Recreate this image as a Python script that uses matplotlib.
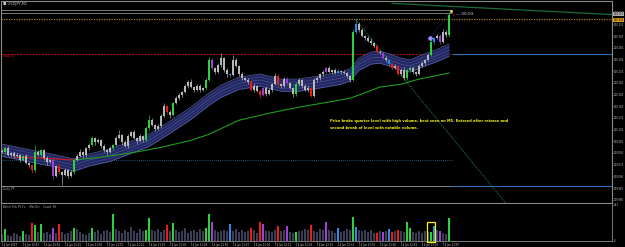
import matplotlib
matplotlib.use("Agg")
import matplotlib.pyplot as plt
from matplotlib.patches import Rectangle

# ---- data (price, USDJPY) ----
first_open = 110.061
closes = [
    110.058, 110.066, 110.051, 110.056, 110.049, 110.051, 110.041, 110.049, 110.034, 110.030,
    110.019, 110.058, 110.051, 110.062, 110.045, 110.036, 110.041, 110.007, 110.028, 110.015,
    110.009, 110.019, 110.007, 110.015, 110.041, 110.049, 110.058, 110.051, 110.066, 110.073,
    110.088, 110.079, 110.083, 110.071, 110.062, 110.058, 110.066, 110.073, 110.088, 110.094,
    110.079, 110.071, 110.092, 110.100, 110.088, 110.081, 110.092, 110.083, 110.109, 110.126,
    110.116, 110.107, 110.113, 110.135, 110.156, 110.143, 110.137, 110.163, 110.173, 110.180,
    110.186, 110.199, 110.208, 110.197, 110.191, 110.199, 110.191, 110.195, 110.212, 110.255,
    110.237, 110.229, 110.244, 110.259, 110.233, 110.225, 110.223, 110.255, 110.242, 110.225,
    110.216, 110.212, 110.208, 110.191, 110.199, 110.189, 110.180, 110.195, 110.182, 110.191,
    110.203, 110.220, 110.203, 110.199, 110.214, 110.205, 110.195, 110.182, 110.203, 110.212,
    110.199, 110.191, 110.195, 110.178, 110.212, 110.216, 110.225, 110.229, 110.237, 110.229,
    110.233, 110.227, 110.231, 110.229, 110.227, 110.220, 110.212, 110.315, 110.332, 110.319,
    110.306, 110.302, 110.295, 110.291, 110.285, 110.272, 110.270, 110.259, 110.255, 110.246,
    110.237, 110.242, 110.225, 110.233, 110.216, 110.233, 110.237, 110.229, 110.225, 110.242,
    110.248, 110.255, 110.265, 110.293, 110.302, 110.306, 110.293, 110.315, 110.308, 110.351,
]
# wick lengths in points (0.001)
upper_wick = [
    4, 3, 5, 2, 3, 4, 2, 3, 5, 2,
    3, 15, 4, 3, 2, 5, 3, 4, 3, 6,
    3, 4, 2, 5, 3, 4, 6, 2, 3, 5,
    4, 3, 6, 2, 4, 3, 5, 3, 4, 11,
    3, 5, 4, 3, 6, 2, 4, 3, 5, 11,
    4, 3, 6, 5, 7, 3, 4, 3, 5, 4,
    3, 5, 4, 6, 3, 4, 5, 3, 4, 6,
    5, 3, 4, 11, 3, 4, 3, 10, 4, 3,
    5, 3, 4, 3, 6, 2, 4, 3, 5, 4,
    3, 6, 4, 3, 5, 4, 3, 2, 4, 5,
    3, 4, 6, 3, 5, 4, 3, 4, 3, 5,
    3, 4, 5, 3, 4, 3, 2, 6, 13, 4,
    5, 3, 4, 6, 3, 4, 5, 3, 4, 3,
    4, 5, 3, 4, 6, 3, 4, 5, 3, 4,
    5, 3, 4, 6, 3, 5, 4, 6, 3, 6,
]
lower_wick = [
    3, 5, 2, 4, 3, 2, 5, 3, 2, 4,
    5, 3, 2, 4, 3, 5, 2, 6, 3, 4,
    22, 3, 5, 2, 4, 3, 2, 5, 3, 4,
    3, 5, 2, 4, 3, 6, 2, 4, 3, 2,
    5, 3, 4, 2, 3, 5, 2, 4, 3, 4,
    3, 5, 2, 4, 3, 4, 6, 3, 2, 4,
    5, 2, 4, 3, 5, 2, 4, 3, 4, 3,
    3, 4, 2, 5, 3, 6, 4, 2, 3, 5,
    4, 3, 5, 2, 4, 3, 6, 2, 5, 3,
    4, 2, 5, 3, 4, 2, 3, 6, 4, 3,
    5, 2, 4, 3, 2, 4, 3, 5, 2, 3,
    4, 2, 3, 4, 2, 3, 5, 3, 4, 5,
    3, 4, 2, 5, 3, 4, 2, 3, 5, 4,
    3, 2, 5, 4, 4, 3, 2, 4, 5, 3,
    2, 4, 3, 2, 5, 3, 4, 2, 3, 4,
]
volumes = [
    40, 70, 35, 30, 45, 38, 28, 60, 42, 36,
    110, 95, 50, 100, 45, 55, 40, 75, 48, 105,
    52, 38, 44, 60, 75, 70, 50, 42, 36, 48,
    75, 55, 62, 40, 58, 66, 50, 165, 72, 60,
    45, 68, 54, 82, 60, 48, 70, 58, 65, 140,
    66, 58, 72, 50, 62, 95, 58, 110, 64, 52,
    60, 75, 48, 56, 66, 52, 70, 58, 75, 165,
    115, 62, 50, 58, 68, 56, 105, 60, 72, 55,
    64, 50, 58, 75, 62, 48, 115, 105, 60, 56,
    50, 62, 90, 58, 66, 90, 52, 48, 50, 60,
    58, 70, 64, 95, 60, 55, 72, 66, 115, 62,
    56, 48, 75, 52, 60, 70, 64, 145, 85, 62,
    58, 66, 54, 62, 48, 45, 56, 50, 60, 70,
    50, 60, 65, 58, 52, 115, 75, 50, 45, 56,
    48, 60, 55, 55, 90, 62, 60, 48, 40, 139,
]
# volume-class highlighted bars
hl_index = [1, 7, 10, 11, 13, 17, 19, 24, 30, 37,
            48, 49, 55, 57, 68, 69, 70, 76, 83, 86,
            87, 92, 95, 98, 103, 108, 112, 117, 118, 125,
            127, 129, 130, 132, 135, 136, 143, 144, 146, 149]
hl_kind = ['g', 'g', 'r', 'g', 'g', 'p', 'r', 'g', 'g', 'g',
           'g', 'g', 'r', 'g', 'g', 'g', 'p', 'b', 'r', 'r',
           'p', 'r', 'p', 'g', 'r', 'p', 'b', 'g', 'b', 'r',
           'p', 'b', 'r', 'r', 'g', 'g', 'g', 'b', 'p', 'g']

# MA ribbon centre and slow MA
rib_idx = [0, 6, 13, 18, 24, 29, 36, 43, 49, 56, 63, 69, 73, 79, 86, 93, 99,
           106, 113, 116, 119, 123, 126, 129, 133, 136, 139, 146, 149]
rib_mid = [110.062, 110.054, 110.045, 110.039, 110.030, 110.041, 110.051, 110.068,
           110.083, 110.111, 110.141, 110.171, 110.188, 110.205, 110.212, 110.201,
           110.201, 110.208, 110.216, 110.223, 110.246, 110.259, 110.261, 110.255,
           110.246, 110.242, 110.250, 110.267, 110.276]
slow_red_idx = [4, 13, 24]
slow_red = [110.047, 110.045, 110.041]
slow_grn_idx = [24, 33, 43, 53, 63, 69, 79, 89, 99, 109, 116, 119, 126, 133, 139, 149]
slow_grn = [110.041, 110.047, 110.056, 110.068, 110.083, 110.096, 110.126, 110.141,
            110.154, 110.165, 110.173, 110.180, 110.197, 110.203, 110.214, 110.227]

# levels
ask_level, bid_level = 110.362, 110.355
alert_level = 110.342
daily_r1 = 110.268
dotted_level = 110.041
daily_pp = 109.985
trend_idx, trend_px = [118, 168], [110.340, 109.948]
top_idx, top_px = [130, 203.3], [110.376, 110.352]
entry_idx, entry_px = [142.7, 149.3], [110.302, 110.357]

price_ticks = [109.956, 109.981, 110.006, 110.031, 110.056, 110.081, 110.106, 110.131,
               110.156, 110.181, 110.206, 110.231, 110.256, 110.281, 110.306, 110.331,
               110.356]
time_ticks = [0, 7, 14, 21, 28, 35, 42, 49, 56, 63, 70, 77, 84, 91, 98, 105, 112,
              119, 126, 133, 140, 147]
time_labels = ["14 Jun 2017", "14 Jun 10:47", "14 Jun 10:54", "14 Jun 11:01",
               "14 Jun 11:08", "14 Jun 11:15", "14 Jun 11:22", "14 Jun 11:29",
               "14 Jun 11:36", "14 Jun 11:43", "14 Jun 11:50", "14 Jun 11:57",
               "14 Jun 12:04", "14 Jun 12:11", "14 Jun 12:18", "14 Jun 12:25",
               "14 Jun 12:32", "14 Jun 12:39", "14 Jun 12:46", "14 Jun 12:53",
               "14 Jun 13:00", "14 Jun 13:07"]

# ---- drawing ----
W, H = 625, 247
def box(x0, y0, x1, y1):
    return [x0 / W, 1 - y1 / H, (x1 - x0) / W, (y1 - y0) / H]
def px(x, y):
    return x / W, 1 - y / H

palette = {'g': '#2bd23b', 'r': '#f01a1a', 'p': '#a23fd8', 'b': '#2a8cf0'}
kinds = {i: k for i, k in zip(hl_index, hl_kind)}

fig = plt.figure(figsize=(6.25, 2.47), dpi=100, facecolor='black')
ax = fig.add_axes(box(1, 1, 612, 203), facecolor='black')
axv = fig.add_axes(box(1, 204, 612, 240.5), facecolor='black')
XMIN, XMAX = -0.33, 203.33

n = len(closes)
idx = list(range(n))
opens = [first_open] + closes[:-1]
for i in idx:
    o, c = opens[i], closes[i]
    hi = max(o, c) + upper_wick[i] / 1000
    lo = min(o, c) - lower_wick[i] / 1000
    col = palette.get(kinds.get(i), '#b8b8b8')
    ax.vlines(i, lo, hi, color=col, lw=0.45, zorder=4)
    h = max(abs(c - o), 0.0008)
    ax.bar(i, h, bottom=min(o, c), width=0.55, color=col, lw=0, zorder=5)

# ribbon
lo_band = [m - 0.013 for m in rib_mid]
hi_band = [m + 0.013 for m in rib_mid]
ax.fill_between(rib_idx, lo_band, hi_band, color='#23275e', lw=0, zorder=2)
for off, c in [(-0.013, '#5862a6'), (-0.0065, '#3c4590'), (0, '#4a53a0'),
               (0.0065, '#3c4590'), (0.013, '#5862a6')]:
    ax.plot(rib_idx, [m + off for m in rib_mid], color=c, lw=0.5, zorder=3)

ax.plot(slow_red_idx, slow_red, color='#d01818', lw=0.8, zorder=3)
ax.plot(slow_grn_idx, slow_grn, color='#1e9e1e', lw=0.8, zorder=3)

# levels
ax.hlines([ask_level, bid_level], XMIN, 150, color='#8c8c8c', lw=0.6, zorder=1)
ax.hlines(alert_level, XMIN, XMAX, color='#b07818', lw=0.9, linestyles=(0, (1, 1)), zorder=1)
ax.hlines(daily_r1, XMIN, 150, color='#c01010', lw=0.7, linestyles=(0, (2, 1.2)), zorder=1)
ax.hlines(daily_r1, 150, XMAX, color='#2f6fae', lw=0.8, zorder=1)
ax.hlines(dotted_level, XMIN, 150, color='#2f6fae', lw=0.6, linestyles=(0, (1, 1.5)), zorder=1)
ax.hlines(daily_pp, XMIN, 150, color='#8a8a8a', lw=0.7, zorder=1)
ax.hlines(daily_pp, 150, XMAX, color='#2f6fae', lw=0.8, zorder=1)
ax.plot(trend_idx, trend_px, color='#1c8a3a', lw=0.5, ls=(0, (2, 1)), zorder=3)
ax.plot(top_idx, top_px, color='#1b6b3a', lw=0.9, zorder=1)
ax.plot(entry_idx, entry_px, color='#2a2aa0', lw=0.5, ls=(0, (1, 1)), zorder=6)
ax.plot(entry_idx[0], entry_px[0], marker='D', ms=2, color='#9a8cff', zorder=7)
ax.plot(149.5, 110.359, marker='s', ms=2, mfc='#ffffaa', mec='#c8c800', mew=0.4, zorder=7)

ax.set_xlim(XMIN, XMAX)
ax.set_ylim(109.949, 110.381)
ax.set_xticks([])
ax.yaxis.tick_right()
ax.set_yticks(price_ticks)
ax.set_yticklabels([f"{p:.3f}" for p in price_ticks])
ax.tick_params(axis='y', colors='#c8c8c8', labelsize=1.85, length=1.0, width=0.4, pad=0.4)
for s in ax.spines.values():
    s.set_color('#8a8a8a')
    s.set_linewidth(0.8)

# texts in main panel
fig.text(*px(3, 4), "\u25a0 USDJPY,M1", color='#c0c0c0', fontsize=2.6, va='center')
fig.text(*px(3, 56.5), "Daily R1", color='#d01818', fontsize=2.1, va='center')
fig.text(*px(3, 189), "Daily PP", color='#9a9a9a', fontsize=2.1, va='center')
fig.text(*px(452, 14), "<", color='#ff2020', fontsize=3.0, va='center')
fig.text(*px(456, 14), "\u2014 00:03", color='#e0e0e0', fontsize=3.0, va='center')
fig.text(*px(330, 121), "Price broke quarter level with high volume, best seen on M5. "
         "Entered after retrace and", color='#f2f21a', fontsize=2.6,
         fontweight='bold', va='center')
fig.text(*px(330, 128), "second break of level with notable volume.", color='#f2f21a',
         fontsize=2.6, fontweight='bold', va='center')
fig.text(*px(613.5, 14.2), f"{closes[-1]:.3f}", color='black', fontsize=1.85, va='center',
         bbox=dict(boxstyle='square,pad=0.1', fc='#b0b0b0', ec='none'))
fig.text(*px(613.5, 19.8), f"{alert_level:.3f}", color='black', fontsize=1.85, va='center',
         bbox=dict(boxstyle='square,pad=0.1', fc='#e0a020', ec='none'))

# volume panel
vcols = [palette.get(kinds.get(i), '#3d3d56') for i in idx]
axv.bar(idx, volumes, width=0.6, color=vcols, lw=0)
axv.add_patch(Rectangle((141.6, -9), 2.8, 124, fill=False, ec='#f5f500', lw=0.9,
                        clip_on=False, zorder=6))
axv.set_xlim(XMIN, XMAX)
axv.set_ylim(0, 226)
axv.yaxis.tick_right()
axv.set_yticks([0, 221])
axv.set_yticklabels(["0", "221"])
axv.set_xticks(time_ticks)
axv.set_xticklabels(time_labels)
for lbl in axv.get_xticklabels():
    lbl.set_ha('left')
axv.tick_params(colors='#c8c8c8', labelsize=1.8, length=1.0, width=0.4, pad=0.5)
axv.spines['top'].set_visible(False)
for k in ['left', 'right', 'bottom']:
    axv.spines[k].set_color('#8a8a8a')
    axv.spines[k].set_linewidth(0.6)
fig.text(*px(3, 206.5), "Better Tick PV Fx     Met Orc    Count: 86", color='#b0b0b0',
         fontsize=1.9, va='center')

fig.savefig("out.png", dpi=100, facecolor='black')
